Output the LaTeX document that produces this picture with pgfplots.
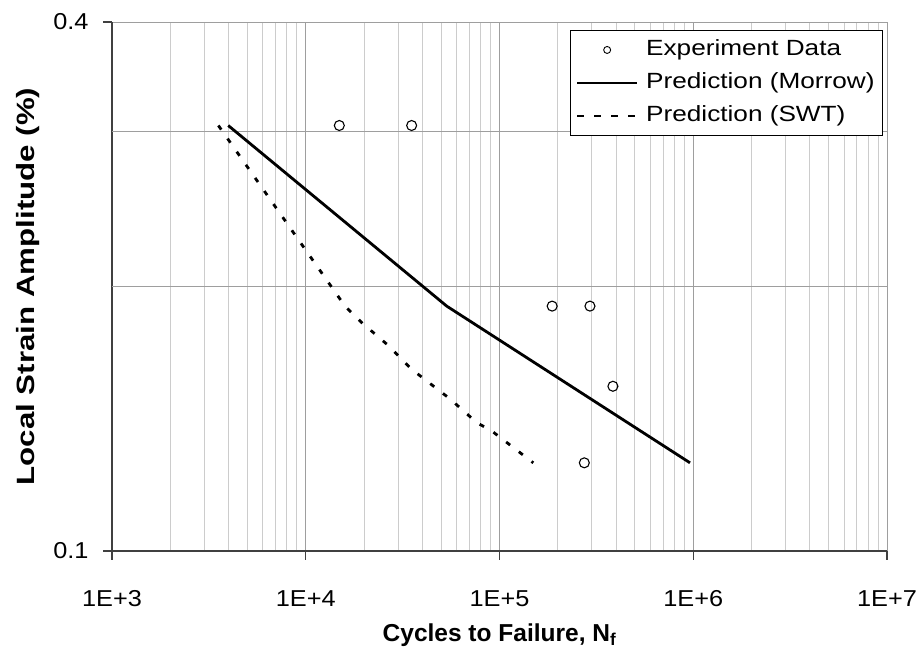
\documentclass[border=0pt]{standalone}
\usepackage{fontspec}
\setmainfont{Liberation Sans}
\usepackage{pgfplots}
\pgfplotsset{compat=1.18}
\definecolor{majgrid}{gray}{0.62}
\definecolor{mingrid}{gray}{0.80}
\definecolor{axcol}{gray}{0.25}
\newcommand{\tickfont}{\fontsize{23}{26}\selectfont\addfontfeature{FakeStretch=1.1}}
\newcommand{\legfont}{\fontsize{22}{26}\selectfont\addfontfeature{FakeStretch=1.19}}
\begin{document}
\begin{tikzpicture}
\begin{axis}[
  at={(0,0)}, anchor=south west,
  scale only axis, width=775pt, height=529pt,
  xmode=log, ymode=log,
  xmin=1e3, xmax=1e7, ymin=0.1, ymax=0.4,
  axis x line*=bottom, axis y line*=left,
  axis line style={axcol, line width=1.3pt},
  xtick={1e3,1e4,1e5,1e6,1e7},
  xticklabels={\mbox{1E+3},\mbox{1E+4},\mbox{1E+5},\mbox{1E+6},\mbox{1E+7}},
  minor xtick={2000,3000,4000,5000,6000,7000,8000,9000,
    20000,30000,40000,50000,60000,70000,80000,90000,
    200000,300000,400000,500000,600000,700000,800000,900000,
    2000000,3000000,4000000,5000000,6000000,7000000,8000000,9000000},
  ytick={0.1,0.4}, yticklabels={\mbox{0.1},\mbox{0.4}},
  extra y ticks={0.2,0.3}, extra y tick labels={},
  extra y tick style={grid=major, major tick length=0pt},
  xmajorgrids=true, xminorgrids=true, ymajorgrids=true,
  major grid style={majgrid, line width=1pt},
  minor grid style={mingrid, line width=1pt},
  tick align=outside, major tick length=9pt, minor tick length=0pt,
  tick style={axcol, line width=1.3pt},
  ticklabel style={font=\tickfont},
  xticklabel style={yshift=-27pt},
  yticklabel style={xshift=-11pt},
  xlabel={\bfseries Cycles to Failure, N\textsubscript{f}},
  ylabel={\bfseries Local Strain Amplitude (\%)},
  xlabel style={font=\fontsize{24.5}{28}\selectfont, at={(axis description cs:0.5,0)}, anchor=center, yshift=-84pt},
  ylabel style={font=\fontsize{25}{28}\selectfont\addfontfeature{FakeStretch=1.25}, at={(axis description cs:0,0.5)}, anchor=center, yshift=84pt},
  legend style={at={(rel axis cs:1,1)}, anchor=north east, xshift=-4pt, yshift=-8pt,
    draw=black, line width=0.9pt, fill=white,
    font=\legfont,
    inner xsep=6pt, inner ysep=7pt, row sep=8pt, column sep=6pt,
    nodes={inner sep=2pt, text height=16pt, text depth=5pt}},
  legend cell align=left,
]
\addplot[only marks, mark=o, mark size=5pt, mark options={black, line width=1.1pt, fill=white},
  legend image code/.code={\path[draw=none,fill=none] (0pt,0pt) -- (60pt,0pt); \draw[black, line width=0.9pt, solid] (30pt,0pt) circle (3.5pt);}]
  coordinates {(1.49e4,0.305) (3.52e4,0.305) (1.87e5,0.190) (2.93e5,0.190) (3.85e5,0.154) (2.74e5,0.126)};
\addlegendentry{Experiment Data}
\addplot[black, line width=2.8pt, no markers,
  legend image code/.code={\draw[black, line width=2pt] (0pt,0pt) -- (60pt,0pt);}]
  coordinates {(3.98e3,0.305) (5.34e4,0.190) (9.62e5,0.126)};
\addlegendentry{Prediction (Morrow)}
\addplot[black, line width=2.8pt, no markers, dash pattern=on 5pt off 11pt,
  legend image code/.code={\draw[black, line width=2pt, dash pattern=on 7pt off 10pt] (0pt,0pt) -- (60pt,0pt);}]
  coordinates {(3.54e3,0.305) (1.594e4,0.190) (1.944e4,0.182) (2.617e4,0.172) (3.523e4,0.161) (5.55e4,0.149) (7.63e4,0.140) (9.11e4,0.137) (1.494e5,0.126)};
\addlegendentry{Prediction (SWT)}
\end{axis}
\pgfresetboundingbox
\path[use as bounding box] (-112pt,-109pt) rectangle (812pt,551pt);
\end{tikzpicture}
\end{document}
